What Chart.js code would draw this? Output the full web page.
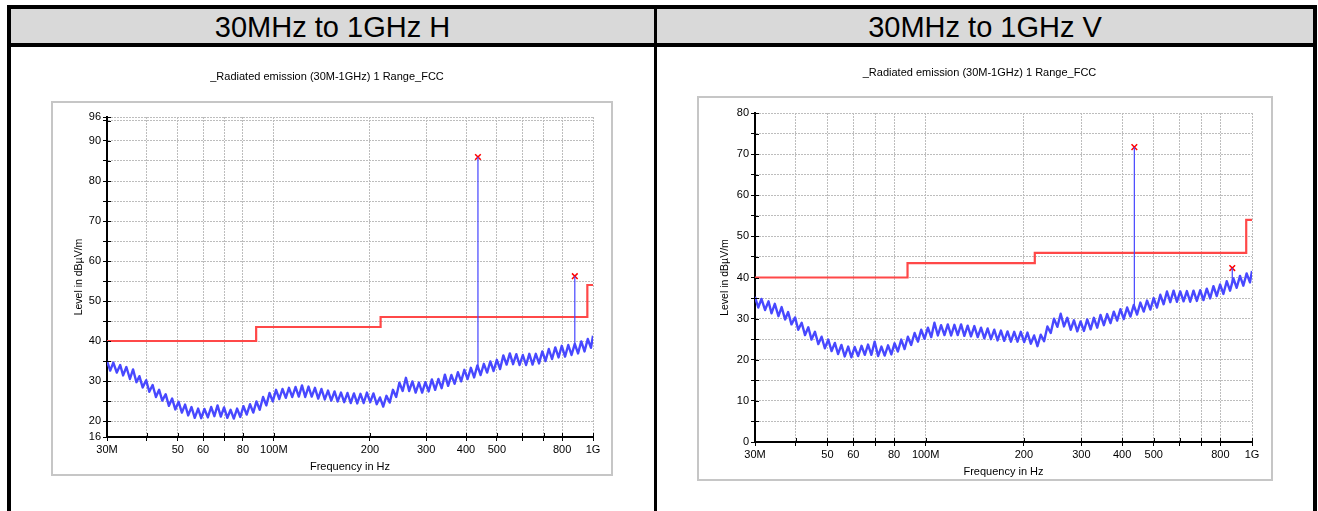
<!DOCTYPE html>
<html>
<head>
<meta charset="utf-8">
<script src="https://cdn.jsdelivr.net/npm/chart.js@4.4.1/dist/chart.umd.min.js"></script>
<style>
  body { margin: 0; background: #fff; font-family: Arial, "Liberation Sans", sans-serif; overflow: hidden; }
  .page { position: relative; width: 1318px; height: 511px; }
  .box { position: absolute; box-sizing: border-box; }
  .outer { left: 7px; top: 5px; width: 1310px; height: 520px; border: 4px solid #000; border-bottom: none; }
  .head { left: 11px; top: 9px; width: 1302px; height: 34px; background: #d9d9d9; }
  .hline { left: 11px; top: 43px; width: 1302px; height: 4px; background: #000; }
  .vline { left: 654px; top: 9px; width: 3px; height: 510px; background: #000; }
  .htext { position: absolute; top: 9px; height: 34px; line-height: 36px; font-size: 29px; text-align: center; color: #000; }
  .frame { border: 2px solid #c6c6c6; }
  canvas { position: absolute; }
</style>
</head>
<body>
<div class="page">
  <div class="box outer"></div>
  <div class="box head"></div>
  <div class="box hline"></div>
  <div class="box vline"></div>
  <div class="htext" style="left:11px;width:643px;">30MHz to 1GHz H</div>
  <div class="htext" style="left:657px;width:656px;">30MHz to 1GHz V</div>
  <div class="box frame" style="left:51px;top:101px;width:562px;height:375px;"></div>
  <div class="box frame" style="left:697px;top:96px;width:576px;height:385px;"></div>
  <canvas id="chartH" width="643" height="464" style="left:11px;top:47px;width:643px;height:464px;"></canvas>
  <canvas id="chartV" width="656" height="464" style="left:657px;top:47px;width:656px;height:464px;"></canvas>
</div>
<script>
// sweep frequencies in MHz (shared by both polarisations)
const freq = [30.0, 30.7, 31.4, 32.2, 33.0, 33.7, 34.5, 35.4, 36.2, 37.1,
  37.9, 38.8, 39.8, 40.7, 41.7, 42.7, 43.7, 44.7, 45.8, 46.9,
  48.0, 49.1, 50.3, 51.5, 52.7, 53.9, 55.2, 56.5, 57.9, 59.2,
  60.6, 62.1, 63.6, 65.1, 66.6, 68.2, 69.8, 71.5, 73.2, 74.9,
  76.7, 78.5, 80.3, 82.2, 84.2, 86.2, 88.2, 90.3, 92.5, 94.7,
  96.9, 99.2, 101.6, 104.0, 106.4, 109.0, 111.5, 114.2, 116.9, 119.7,
  122.5, 125.4, 128.4, 131.4, 134.5, 137.7, 141.0, 144.4, 147.8, 151.3,
  154.9, 158.5, 162.3, 166.1, 170.1, 174.1, 178.2, 182.5, 186.8, 191.2,
  195.7, 200.4, 205.1, 210.0, 215.0, 220.1, 225.3, 230.6, 236.1, 241.7,
  247.4, 253.3, 259.3, 265.4, 271.7, 278.2, 284.8, 291.5, 298.4, 305.5,
  312.7, 320.2, 327.7, 335.5, 343.5, 351.6, 359.9, 368.5, 377.2, 386.2,
  395.3, 404.7, 414.3, 424.1, 434.2, 444.5, 455.0, 465.8, 476.8, 488.1,
  499.7, 511.5, 523.7, 536.1, 548.8, 561.8, 575.1, 588.7, 602.7, 617.0,
  631.6, 646.6, 661.9, 677.6, 693.7, 710.1, 726.9, 744.2, 761.8, 779.9,
  798.3, 817.3, 836.6, 856.5, 876.8, 897.6, 918.8, 940.6, 962.9, 985.7,
  1000];

// horizontal polarisation, dBµV/m
const hLevel = [35.0, 32.6, 34.6, 32.1, 34.0, 31.4, 33.5, 30.5, 32.9, 29.7,
  31.2, 28.4, 30.2, 27.3, 29.0, 26.0, 27.8, 25.1, 26.7, 23.8,
  25.6, 22.9, 24.8, 22.1, 24.1, 21.4, 23.5, 20.8, 23.1, 20.7,
  23.0, 20.9, 23.5, 21.2, 23.9, 21.1, 23.4, 20.8, 22.8, 20.6,
  23.1, 21.0, 23.7, 21.6, 24.2, 22.1, 24.9, 22.8, 26.0, 23.9,
  27.0, 24.9, 27.8, 25.5, 28.0, 25.8, 28.3, 26.0, 28.5, 26.1,
  28.9, 26.0, 28.6, 26.1, 28.3, 25.6, 28.0, 25.4, 27.6, 25.1,
  27.4, 24.9, 27.1, 24.7, 27.0, 24.5, 26.9, 24.4, 26.8, 24.5,
  27.1, 24.7, 26.9, 24.2, 25.9, 23.6, 26.3, 24.6, 27.8, 26.0,
  29.6, 27.5, 30.8, 27.5, 29.9, 27.1, 29.6, 27.1, 29.7, 27.4,
  30.4, 27.8, 30.5, 28.2, 31.6, 28.8, 31.5, 29.3, 32.2, 29.9,
  32.8, 30.5, 33.3, 30.9, 33.9, 31.5, 34.3, 32.1, 34.9, 32.5,
  35.3, 33.0, 36.4, 34.1, 36.9, 34.2, 36.7, 34.0, 36.5, 34.0,
  36.8, 34.1, 36.8, 34.4, 37.4, 35.0, 38.0, 35.5, 38.4, 35.9,
  38.8, 36.1, 39.0, 36.5, 39.3, 36.9, 39.9, 37.4, 40.5, 38.3,
  41.3];

// vertical polarisation, dBµV/m
const vLevel = [35.3, 32.7, 34.8, 32.1, 34.2, 31.3, 33.6, 30.6, 32.8, 29.8,
  31.6, 28.6, 30.3, 27.3, 29.0, 26.0, 27.9, 24.9, 26.8, 23.8,
  25.6, 22.8, 24.9, 22.1, 24.1, 21.4, 23.6, 20.8, 23.2, 20.6,
  23.1, 20.9, 23.4, 21.2, 23.7, 21.2, 24.4, 20.9, 23.2, 21.0,
  23.5, 21.3, 24.0, 22.0, 24.9, 22.6, 25.6, 23.6, 26.5, 24.4,
  27.3, 25.1, 27.8, 25.5, 29.0, 25.9, 28.4, 26.0, 28.6, 25.9,
  28.5, 26.0, 28.6, 25.8, 28.3, 25.7, 28.2, 25.5, 27.8, 25.2,
  27.6, 25.0, 27.3, 24.7, 27.1, 24.6, 26.9, 24.4, 26.8, 24.4,
  26.8, 24.3, 26.6, 23.9, 25.9, 23.3, 26.1, 24.5, 28.1, 26.5,
  30.0, 28.0, 31.2, 28.1, 30.2, 27.3, 29.6, 26.9, 29.3, 27.0,
  29.8, 27.4, 30.2, 27.8, 30.9, 28.4, 31.1, 28.9, 31.7, 29.5,
  32.3, 29.9, 32.7, 30.5, 33.3, 31.0, 33.9, 31.7, 34.4, 32.2,
  35.0, 32.7, 35.8, 33.5, 36.6, 34.0, 36.8, 34.1, 36.6, 34.2,
  36.7, 34.1, 36.8, 34.3, 36.9, 34.5, 37.3, 34.9, 37.9, 35.5,
  38.3, 36.0, 39.1, 36.8, 39.8, 37.5, 40.4, 38.0, 41.0, 38.8,
  41.6];

// FCC limit line
const limitFreq = [30, 88, 88, 216, 216, 960, 960, 1000];
const limitLevel = [40, 40, 43.5, 43.5, 46, 46, 54, 54];

// peaks: frequency, level under the peak, peak level
const hPeakFreq = [436, 877];
const hPeakBase = [33.0, 38.2];
const hPeakLevel = [86.0, 56.2];
const vPeakFreq = [436, 870];
const vPeakBase = [32.2, 38.6];
const vPeakLevel = [71.7, 42.3];

// axis ticks
const xTicks = [30, 40, 50, 60, 70, 80, 100, 200, 300, 400, 500, 600, 700, 800, 1000];
const xLabels = { 30: '30M', 50: '50', 60: '60', 80: '80', 100: '100M', 200: '200', 300: '300', 400: '400', 500: '500', 800: '800', 1000: '1G' };
const hYTicks = [16, 20, 25, 30, 35, 40, 45, 50, 55, 60, 65, 70, 75, 80, 85, 90, 95, 96];
const hYLabels = [16, 20, 30, 40, 50, 60, 70, 80, 90, 96];
const vYTicks = [0, 5, 10, 15, 20, 25, 30, 35, 40, 45, 50, 55, 60, 65, 70, 75, 80];
const vYLabels = [0, 10, 20, 30, 40, 50, 60, 70, 80];

const titleText = '_Radiated emission (30M-1GHz) 1 Range_FCC';

const innerTicks = {
  id: 'innerTicks',
  afterDraw(chart) {
    const { ctx, chartArea } = chart;
    const xs = chart.scales.x, ys = chart.scales.y;
    ctx.save();
    ctx.strokeStyle = '#000';
    ctx.lineWidth = 1;
    ctx.beginPath();
    xs.ticks.forEach(t => {
      const px = Math.round(xs.getPixelForValue(t.value)) + 0.5;
      ctx.moveTo(px, chartArea.bottom);
      ctx.lineTo(px, chartArea.bottom - 4);
    });
    ys.ticks.forEach(t => {
      const py = Math.round(ys.getPixelForValue(t.value)) + 0.5;
      ctx.moveTo(chartArea.left, py);
      ctx.lineTo(chartArea.left + 4, py);
    });
    ctx.stroke();
    ctx.restore();
  }
};

function pts(fs, vs) {
  return fs.map((f, i) => ({ x: f, y: vs[i] }));
}

// vertical spike segments separated by gaps
function spikes(fs, base, top) {
  const out = [];
  fs.forEach((f, i) => {
    out.push({ x: f, y: base[i] }, { x: f, y: top[i] }, { x: f, y: null });
  });
  return out;
}

function makeChart(id, cfg) {
  const font = { family: 'Arial, "Liberation Sans", sans-serif', size: 11 };
  return new Chart(document.getElementById(id), {
    type: 'line',
    data: {
      datasets: [
        {
          label: 'Level',
          data: pts(freq, cfg.level),
          borderColor: '#4848ff',
          borderWidth: 2.4,
          borderJoinStyle: 'round',
          pointRadius: 0,
          tension: 0
        },
        {
          label: 'Spikes',
          data: spikes(cfg.peakFreq, cfg.peakBase, cfg.peakLevel),
          borderColor: '#4646ff',
          borderWidth: 1.2,
          pointRadius: 0,
          spanGaps: false
        },
        {
          label: 'Limit',
          data: pts(limitFreq, limitLevel),
          borderColor: '#ff4848',
          borderWidth: 2.2,
          pointRadius: 0,
          tension: 0
        },
        {
          label: 'Peaks',
          data: pts(cfg.peakFreq, cfg.peakLevel),
          showLine: false,
          pointStyle: 'crossRot',
          pointRadius: 4,
          borderColor: '#ff0000',
          borderWidth: 1.5
        }
      ]
    },
    options: {
      responsive: false,
      animation: false,
      events: [],
      layout: { padding: cfg.padding },
      plugins: {
        legend: { display: false },
        tooltip: { enabled: false },
        title: {
          display: true,
          text: titleText,
          color: '#000',
          font: { family: font.family, size: 11, weight: 'normal' },
          padding: cfg.titlePad
        }
      },
      scales: {
        x: {
          type: 'logarithmic',
          min: 30,
          max: 1000,
          afterBuildTicks: s => { s.ticks = xTicks.map(v => ({ value: v })); },
          afterFit: s => { s.height = cfg.xHeight; },
          ticks: {
            autoSkip: false,
            maxRotation: 0,
            color: '#000',
            font: font,
            padding: 2,
            callback: v => xLabels[v] || ''
          },
          grid: { color: '#bdbdbd', lineWidth: 1, tickColor: '#000', tickLength: 4 },
          border: { display: true, color: '#000', width: 2, dash: [2, 1] },
          title: { display: true, text: 'Frequency in Hz', color: '#000', font: font, padding: { top: 0, bottom: 7 } }
        },
        y: {
          type: 'linear',
          min: cfg.yMin,
          max: cfg.yMax,
          afterBuildTicks: s => { s.ticks = cfg.yTicks.map(v => ({ value: v })); },
          afterFit: s => { s.width = cfg.yWidth; },
          ticks: {
            autoSkip: false,
            color: '#000',
            font: font,
            padding: 2,
            callback: v => cfg.yLabels.includes(v) ? String(v) : ''
          },
          grid: { color: '#bdbdbd', lineWidth: 1, tickColor: '#000', tickLength: 4 },
          border: { display: true, color: '#000', width: 2, dash: [2, 1] },
          title: { display: true, text: 'Level in dBµV/m', color: '#000', font: { family: font.family, size: 10.5 }, padding: { top: 12, bottom: 0 } }
        }
      }
    },
    plugins: [innerTicks]
  });
}

makeChart('chartH', {
  level: hLevel, peakFreq: hPeakFreq, peakBase: hPeakBase, peakLevel: hPeakLevel,
  yMin: 16, yMax: 96, yTicks: hYTicks, yLabels: hYLabels,
  padding: { left: 50, right: 61, top: 0, bottom: 30 },
  titlePad: { top: 23, bottom: 33.8 },
  xHeight: 44, yWidth: 46
});

makeChart('chartV', {
  level: vLevel, peakFreq: vPeakFreq, peakBase: vPeakBase, peakLevel: vPeakLevel,
  yMin: 0, yMax: 80, yTicks: vYTicks, yLabels: vYLabels,
  padding: { left: 50, right: 61, top: 0, bottom: 25 },
  titlePad: { top: 19, bottom: 33.8 },
  xHeight: 44, yWidth: 48
});
</script>
</body>
</html>
